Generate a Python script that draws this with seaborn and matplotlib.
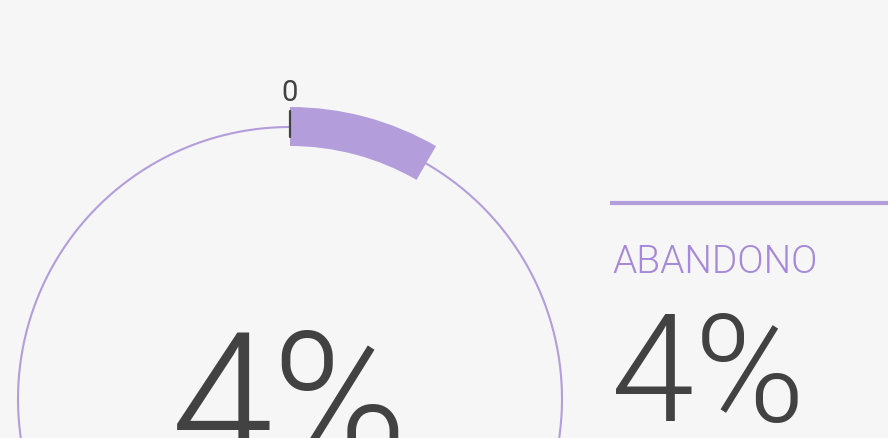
"""Indicador de abandono em forma de medidor circular."""
import matplotlib

matplotlib.use("Agg")
import matplotlib.pyplot as plt
import numpy as np
import seaborn as sns

# Dados do indicador
indicador = "ABANDONO"
valor = 4
valor_maximo = 48
rotulo_inicio = "0"

ROXO = "#b39ddb"
ROXO_TEXTO = "#a689d8"
CINZA = "#424242"
FUNDO = "#f6f6f6"

sns.set_theme(style="white", rc={"figure.facecolor": FUNDO, "axes.facecolor": FUNDO})
plt.rcParams["font.family"] = ["Roboto", "DejaVu Sans"]

W, H = 888, 439
fig = plt.figure(figsize=(W / 100, H / 100), dpi=100)

# Medidor polar: centro em (290, 400) px, 1 unidade de raio = 1 px
cx, cy, R = 290, 400, 300
ax = fig.add_axes([(cx - R) / W, (H - cy - R) / H, 2 * R / W, 2 * R / H], projection="polar")
ax.set_theta_zero_location("N")
ax.set_theta_direction(-1)
ax.set_rlim(0, R)
ax.axis("off")
ax.patch.set_alpha(0)

theta = np.linspace(0, 2 * np.pi, 400)
ax.plot(theta, np.full_like(theta, 272), color=ROXO, lw=1.5)

angulo = valor / valor_maximo * 2 * np.pi
ax.bar(angulo / 2, 39, width=angulo, bottom=253, color=ROXO, edgecolor="none")
ax.plot([0, 0], [262, 288], color=CINZA, lw=1.6)
ax.text(0, 307, rotulo_inicio, ha="center", va="center", fontsize=21, color=CINZA)

# Textos em coordenadas de pixel
tx = fig.add_axes([0, 0, 1, 1])
tx.set_xlim(0, W)
tx.set_ylim(H, 0)
tx.axis("off")
tx.patch.set_alpha(0)

tx.text(cx, 463, f"{valor}%", ha="center", va="baseline", fontsize=132,
        fontweight=300, color=CINZA)
tx.plot([610, W], [204, 204], color=ROXO, lw=3, solid_capstyle="butt")
tx.text(612, 273, indicador, ha="left", va="baseline", fontsize=28,
        fontweight=300, color=ROXO_TEXTO)
tx.text(611, 421, f"{valor}%", ha="left", va="baseline", fontsize=108,
        fontweight=300, color=CINZA)

fig.savefig("out.png", dpi=100, facecolor=FUNDO)
